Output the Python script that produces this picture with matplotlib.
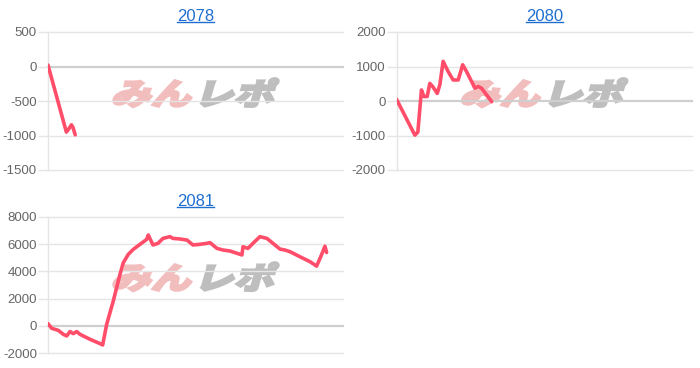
import matplotlib
matplotlib.use("Agg")
import matplotlib.pyplot as plt
from matplotlib.textpath import TextPath
from matplotlib.font_manager import FontProperties
from matplotlib.patches import PathPatch
from matplotlib.transforms import Affine2D, IdentityTransform
from matplotlib.lines import Line2D

# ---------------- data ----------------
titles = ["2078", "2080", "2081"]

games_2078 = [0, 560, 640, 715, 760, 830]
diff_2078 = [20, -950, -900, -845, -880, -990]

games_2080 = [0, 560, 650, 760, 835, 935, 1015, 1110, 1240, 1320, 1420, 1575,
              1725, 1880, 2015, 2135, 2290, 2390, 2490, 2590, 2900]
diff_2080 = [50, -990, -900, 320, 130, 130, 510, 410, 220, 470, 1150, 850,
             610, 610, 1050, 850, 560, 370, 420, 370, -20]

games_2081 = [0, 113, 314, 467, 570, 671, 772, 875, 976, 1281, 1586, 1668,
              1790, 1992, 2196, 2297, 2449, 2602, 2806, 3010, 3059, 3203,
              3355, 3508, 3721, 3813, 4026, 4240, 4423, 4636, 4850, 4941,
              5155, 5338, 5551, 5765, 5917, 5948, 6100, 6253, 6466, 6680,
              6863, 7076, 7229, 7381, 7686, 7991, 8195, 8348, 8449, 8500]
diff_2081 = [170, -170, -320, -610, -730, -410, -560, -410, -610, -975, -1290, -1390,
             120, 1830, 3780, 4630, 5240, 5610, 5975, 6340, 6660, 5930,
             6050, 6410, 6540, 6410, 6370, 6290, 5930, 5980, 6050, 6100,
             5680, 5560, 5490, 5320, 5200, 5800, 5680, 6050, 6540, 6410,
             6050, 5630, 5560, 5440, 5070, 4710, 4380, 5230, 5840, 5380]

yticks_2078 = [500, 0, -500, -1000, -1500]
yticks_2080 = [2000, 1000, 0, -1000, -2000]
yticks_2081 = [8000, 6000, 4000, 2000, 0, -2000]

x_max = 9000

# ---------------- style ----------------
W, H = 700, 368
fig = plt.figure(figsize=(W / 100, H / 100), dpi=100)
fig.patch.set_facecolor("white")

line_color = "#FF4D6A"
grid_color = "#E5E5E5"
zero_color = "#CFCFCF"
tick_color = "#666666"
title_color = "#1F6FD1"
font_main = "Liberation Sans"


def px_axes(left, top, right, bottom):
    return fig.add_axes([left / W, 1 - bottom / H, (right - left) / W, (bottom - top) / H])


axes_specs = [
    (px_axes(48, 32, 343, 170), games_2078, diff_2078, yticks_2078, titles[0]),
    (px_axes(396.5, 32, 692, 170), games_2080, diff_2080, yticks_2080, titles[1]),
    (px_axes(48, 216.7, 343, 353.3), games_2081, diff_2081, yticks_2081, titles[2]),
]

fp_wm = FontProperties(family="Noto Sans CJK JP", weight="black")


def add_watermark(ax):
    p1 = TextPath((0, 0), "みん", size=40, prop=fp_wm)
    p2 = TextPath((0, 0), "レポ", size=40, prop=fp_wm)
    e1 = p1.get_extents()
    off = e1.x1 + 4
    p2 = Affine2D().translate(off, 0).transform_path(p2)
    e2 = p2.get_extents()
    x0 = min(e1.x0, e2.x0)
    x1 = max(e1.x1, e2.x1)
    y0 = min(e1.y0, e2.y0)
    y1 = max(e1.y1, e2.y1)
    tw, th = 160, 29
    sx = tw / (x1 - x0)
    sy = th / (y1 - y0)
    cx, cy = ax.transAxes.transform((0.5, 0.56))
    tr = (Affine2D().translate(-(x0 + x1) / 2, -(y0 + y1) / 2)
          .scale(sx, sy).skew_deg(16, 0).translate(cx, cy))
    for p, col in [(p1, "#F2BDBD"), (p2, "#BEBEBE")]:
        patch = PathPatch(tr.transform_path(p), facecolor=col, edgecolor=col,
                          linewidth=1.6, joinstyle="miter",
                          transform=IdentityTransform(), zorder=0.5, clip_on=False)
        ax.add_artist(patch)


for ax, gx, gy, yt, title in axes_specs:
    ax.set_xlim(0, x_max)
    ax.set_ylim(min(yt), max(yt))
    ax.set_yticks(yt)
    ax.set_yticklabels([str(v) for v in yt])
    ax.set_xticks([])
    for s in ["top", "right", "bottom"]:
        ax.spines[s].set_visible(False)
    ax.spines["left"].set_color(grid_color)
    ax.spines["left"].set_linewidth(1)
    ax.tick_params(axis="y", length=7, width=1, color=grid_color, pad=1,
                   labelcolor=tick_color, labelsize=9.5)
    for lab in ax.get_yticklabels():
        lab.set_fontfamily(font_main)
    for v in yt:
        ax.axhline(v, color=zero_color if v == 0 else grid_color,
                   lw=1.6 if v == 0 else 1, zorder=1, clip_on=False)
    add_watermark(ax)
    ax.plot(gx, gy, color=line_color, lw=2.6, solid_joinstyle="round",
            solid_capstyle="round", zorder=3)
    ax.set_title(title, color=title_color, fontsize=12, fontfamily=font_main, pad=8)

fig.canvas.draw()
renderer = fig.canvas.get_renderer()
for ax, *_ in axes_specs:
    bb = ax.title.get_window_extent(renderer)
    y = bb.y0 + 1.5
    fig.add_artist(Line2D([bb.x0, bb.x1], [y, y], color=title_color, lw=1,
                          transform=IdentityTransform()))

fig.savefig("out.png", dpi=100, facecolor="white")
